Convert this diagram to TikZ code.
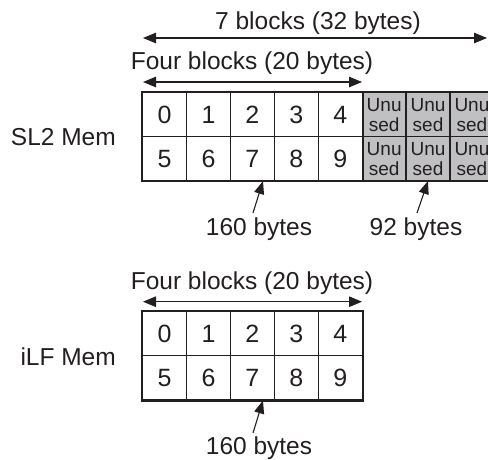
\documentclass[tikz,border=0pt]{standalone}
\usepackage{fontspec}
\setmainfont{Liberation Sans}
\usetikzlibrary{arrows.meta}
\definecolor{ink}{RGB}{35,31,32}
\definecolor{unused}{RGB}{192,192,194}
\begin{document}
\begin{tikzpicture}[x=1pt,y=-1pt,
  cell/.style={draw=ink, line width=1.4pt, minimum width=43.9pt, minimum height=44pt,
    inner sep=0pt, text depth=0pt, font=\fontsize{25}{25}\selectfont, text=ink},
  ucell/.style={cell, fill=unused, align=center, font=\fontsize{19}{20}\selectfont},
  dim/.style={{Triangle[length=13pt,width=10.5pt]}-{Triangle[length=13pt,width=10.5pt]}, line width=1.1pt, draw=ink},
  ptr/.style={-{Triangle[length=13pt,width=10pt]}, line width=1.1pt, draw=ink},
  lbl/.style={font=\fontsize{24.5}{24.5}\selectfont, text=ink, inner sep=0pt, anchor=base},
  frame/.style={draw=ink, line width=2.2pt}]
\useasboundingbox (0,0) rectangle (488,459);
\clip (0,0) rectangle (488,459);

% ---------- SL2 Mem ----------
\node[lbl, anchor=base east] (sl2) at (116,145) {SL2 Mem};
\foreach \i in {0,...,4} {
  \pgfmathtruncatemacro\j{\i+5}
  \node[cell] (s\i) at ({142.7+43.9*(\i+0.5)},114.5) {\i};
  \node[cell] (s\j) at ({142.7+43.9*(\i+0.5)},158.5) {\j};
}
\foreach \i in {5,6,7} {
  \node[ucell] (ua\i) at ({142.7+43.9*(\i+0.5)},114.5) {Unu\\sed};
  \node[ucell] (ub\i) at ({142.7+43.9*(\i+0.5)},158.5) {Unu\\sed};
}
\draw[frame] (s0.north west) rectangle (ub7.south east);
\draw[frame] (s4.north east) -- (s9.south east);

\coordinate (d7l) at (143,38);
\coordinate (d7r) at (487,38);
\draw[dim] (d7l) -- (d7r);
\node[lbl] (t7) at (318,29) {7 blocks (32 bytes)};

\coordinate (d4l) at (143,82);
\coordinate (d4r) at (362,82);
\draw[dim] (d4l) -- (d4r);
\node[lbl] (t4) at (252,69.5) {Four blocks (20 bytes)};

\node[lbl] (t160) at (259,235) {160 bytes};
\coordinate (q160) at (253,213);
\coordinate (p160) at (263,181);
\draw[ptr] (q160) -- (p160);

\node[lbl] (t92) at (416,235) {92 bytes};
\coordinate (q92) at (417,213);
\coordinate (p92) at (428,181);
\draw[ptr] (q92) -- (p92);

% ---------- iLF Mem ----------
\node[lbl, anchor=base east] (ilf) at (116,365) {iLF Mem};
\foreach \i in {0,...,4} {
  \pgfmathtruncatemacro\j{\i+5}
  \node[cell] (l\i) at ({142.7+43.9*(\i+0.5)},333.7) {\i};
  \node[cell] (l\j) at ({142.7+43.9*(\i+0.5)},377.7) {\j};
}
\draw[frame] (l0.north west) rectangle (l9.south east);

\coordinate (e4l) at (143,301.7);
\coordinate (e4r) at (362,301.7);
\draw[dim] (e4l) -- (e4r);
\node[lbl] (u4) at (252,289) {Four blocks (20 bytes)};

\node[lbl] (b160) at (259,454) {160 bytes};
\coordinate (bq160) at (253,433);
\coordinate (bp160) at (263,400.5);
\draw[ptr] (bq160) -- (bp160);
\end{tikzpicture}
\end{document}
